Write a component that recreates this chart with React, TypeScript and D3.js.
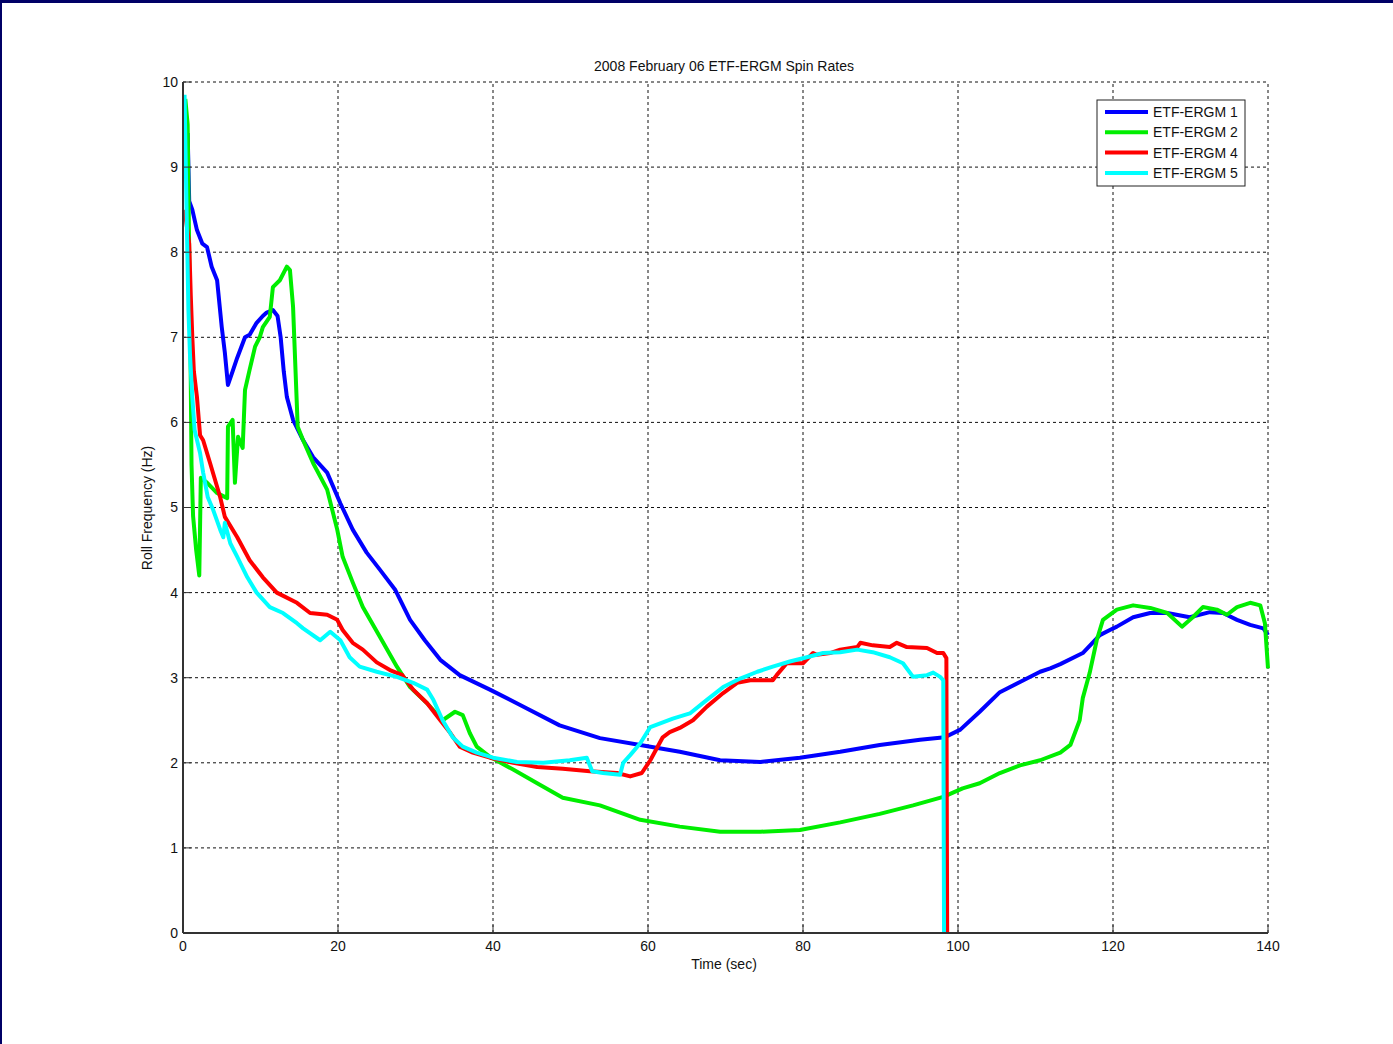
import React from 'react';
import * as d3 from 'd3';

// spin-rate traces (time in sec, roll frequency in Hz)
const ergm1Time = [0.6, 0.8, 1.2, 1.8, 2.5, 3.1, 3.7, 4.4, 5.0, 5.4, 5.8, 6.4, 7.0, 8.0, 8.6, 9.5, 10.3, 10.8, 11.6, 12.2, 12.6, 13.0, 13.4, 14.2, 15.5, 16.8, 18.6, 20.3, 21.9, 23.7, 25.4, 27.4, 29.3, 31.2, 33.2, 35.7, 39.6, 43.5, 48.6, 53.8, 59.0, 64.1, 69.3, 74.5, 79.6, 84.8, 89.9, 95.1, 98.3, 100.3, 102.8, 105.4, 108.0, 110.6, 111.9, 113.2, 116.1, 118.3, 119.6, 120.5, 122.6, 124.8, 127.0, 129.9, 132.5, 134.2, 136.0, 137.7, 139.4, 140];
const ergm1Rate = [9.4, 8.6, 8.5, 8.26, 8.1, 8.06, 7.83, 7.67, 7.12, 6.82, 6.44, 6.6, 6.76, 7.0, 7.03, 7.17, 7.25, 7.29, 7.32, 7.25, 7.0, 6.6, 6.3, 6.03, 5.79, 5.59, 5.41, 5.05, 4.74, 4.47, 4.27, 4.03, 3.68, 3.44, 3.21, 3.03, 2.86, 2.68, 2.44, 2.29, 2.21, 2.13, 2.03, 2.01, 2.06, 2.13, 2.21, 2.27, 2.30, 2.39, 2.60, 2.83, 2.95, 3.07, 3.11, 3.16, 3.29, 3.5, 3.56, 3.60, 3.71, 3.76, 3.76, 3.71, 3.77, 3.76, 3.68, 3.62, 3.58, 3.50];

const ergm2Time = [0.3, 0.6, 0.8, 1.0, 1.1, 1.3, 1.7, 2.1, 2.3, 3.0, 4.4, 5.7, 5.8, 6.4, 6.7, 7.1, 7.7, 8.0, 8.6, 9.3, 9.9, 10.3, 11.2, 11.6, 12.5, 13.4, 13.8, 14.2, 14.8, 15.5, 16.8, 18.6, 19.9, 20.6, 21.9, 23.2, 25.4, 27.6, 29.3, 31.5, 33.5, 35.1, 36.1, 37.0, 37.9, 39.6, 42.6, 45.7, 49.0, 53.8, 59.0, 64.1, 69.3, 74.5, 79.6, 84.8, 89.9, 94.2, 98.1, 100.6, 102.8, 105.4, 108.0, 110.6, 113.2, 114.5, 115.7, 116.1, 117.0, 117.9, 118.7, 120.5, 122.6, 124.8, 127.0, 128.9, 130.3, 131.6, 133.4, 134.7, 136.0, 137.7, 139.0, 139.6, 140];
const ergm2Rate = [9.8, 9.5, 8.0, 6.5, 5.5, 4.9, 4.5, 4.2, 5.35, 5.3, 5.17, 5.11, 5.95, 6.03, 5.29, 5.83, 5.70, 6.38, 6.62, 6.89, 7.0, 7.12, 7.24, 7.59, 7.67, 7.83, 7.79, 7.36, 5.95, 5.79, 5.52, 5.21, 4.74, 4.42, 4.12, 3.83, 3.48, 3.13, 2.89, 2.70, 2.50, 2.60, 2.56, 2.35, 2.19, 2.07, 1.92, 1.76, 1.59, 1.50, 1.33, 1.25, 1.19, 1.19, 1.21, 1.30, 1.40, 1.50, 1.60, 1.70, 1.76, 1.88, 1.97, 2.03, 2.12, 2.21, 2.50, 2.76, 3.06, 3.44, 3.68, 3.80, 3.85, 3.82, 3.76, 3.60, 3.71, 3.83, 3.80, 3.74, 3.83, 3.88, 3.85, 3.64, 3.11];

const ergm4Time = [0.2, 0.8, 1.0, 1.2, 1.4, 1.8, 2.2, 2.6, 3.5, 4.8, 5.4, 7.0, 8.6, 10.3, 12.1, 14.7, 16.4, 18.6, 19.9, 20.6, 21.9, 23.2, 25.0, 26.7, 28.3, 29.7, 31.5, 33.2, 34.5, 35.7, 37.4, 39.6, 42.6, 45.7, 49.0, 52.5, 56.0, 57.7, 59.2, 60.3, 61.9, 62.8, 64.1, 65.8, 67.6, 69.7, 71.5, 73.2, 76.1, 76.6, 77.9, 80.0, 81.3, 81.8, 83.5, 84.8, 87.0, 87.4, 89.0, 91.2, 92.1, 93.4, 96.0, 97.3, 98.1, 98.5, 98.6];
const ergm4Rate = [8.5, 8.1, 7.5, 7.0, 6.6, 6.3, 5.85, 5.79, 5.52, 5.12, 4.89, 4.65, 4.38, 4.18, 4.0, 3.88, 3.76, 3.74, 3.68, 3.56, 3.41, 3.33, 3.18, 3.09, 3.03, 2.86, 2.70, 2.50, 2.35, 2.19, 2.12, 2.06, 2.00, 1.95, 1.93, 1.90, 1.88, 1.84, 1.88, 2.03, 2.30, 2.36, 2.41, 2.50, 2.66, 2.82, 2.94, 2.97, 2.97, 3.03, 3.17, 3.17, 3.29, 3.27, 3.29, 3.33, 3.36, 3.41, 3.38, 3.36, 3.41, 3.36, 3.35, 3.29, 3.29, 3.23, 0];

const ergm5Time = [0.2, 0.5, 0.7, 0.9, 1.2, 1.5, 2.2, 2.6, 3.2, 3.9, 4.8, 5.2, 5.4, 6.1, 7.0, 8.3, 9.5, 11.2, 12.9, 14.7, 15.5, 17.7, 19.0, 20.3, 21.5, 22.8, 25.0, 27.6, 29.7, 31.5, 32.3, 33.5, 34.8, 36.1, 37.9, 40.0, 43.1, 46.5, 49.9, 52.1, 52.8, 54.2, 56.4, 56.8, 57.7, 59.0, 60.3, 63.2, 65.4, 67.6, 69.7, 71.9, 74.1, 76.1, 78.3, 80.5, 82.6, 84.8, 87.0, 89.0, 91.2, 92.9, 94.2, 96.0, 96.8, 97.7, 98.1, 98.2];
const ergm5Rate = [9.85, 8.3, 7.32, 6.8, 6.3, 5.91, 5.64, 5.41, 5.12, 4.97, 4.74, 4.65, 4.82, 4.58, 4.42, 4.18, 4.0, 3.83, 3.76, 3.64, 3.58, 3.44, 3.54, 3.44, 3.24, 3.13, 3.07, 3.01, 2.94, 2.86, 2.74, 2.50, 2.30, 2.19, 2.12, 2.06, 2.01, 2.00, 2.03, 2.06, 1.90, 1.88, 1.86, 2.00, 2.09, 2.23, 2.42, 2.52, 2.58, 2.74, 2.89, 2.99, 3.07, 3.13, 3.19, 3.24, 3.29, 3.30, 3.33, 3.30, 3.24, 3.17, 3.01, 3.03, 3.06, 3.01, 2.97, 0];

const seriesNames = ['ETF-ERGM 1', 'ETF-ERGM 2', 'ETF-ERGM 4', 'ETF-ERGM 5'];
const seriesColors = ['#0000ff', '#00ee00', '#ff0000', '#00ffff'];
const xTicks = [0, 20, 40, 60, 80, 100, 120, 140];
const yTicks = [0, 1, 2, 3, 4, 5, 6, 7, 8, 9, 10];

const W = 1393, H = 1044;
const left = 183, right = 1268, top = 82, bottom = 933;
const font = 'Arial, "Liberation Sans", sans-serif';

export default function App() {
    const x = d3.scaleLinear().domain([0, 140]).range([left, right]);
    const y = d3.scaleLinear().domain([0, 10]).range([bottom, top]);

    const traces = [
        [ergm1Time, ergm1Rate],
        [ergm2Time, ergm2Rate],
        [ergm4Time, ergm4Rate],
        [ergm5Time, ergm5Rate],
    ].map(([ts, vs]) => ts.map((t, i) => [t, vs[i]] as [number, number]));

    const line = d3.line<[number, number]>()
        .x(d => x(d[0]))
        .y(d => y(d[1]));

    const grid = { stroke: '#111', strokeWidth: 1, strokeDasharray: '3,3' };

    return (
        <svg width={W} height={H} style={{ position: 'absolute', left: 0, top: 0, background: '#fff' }}>
            <rect x={0} y={0} width={W} height={3} fill="#000066" />
            <rect x={0} y={0} width={2} height={H} fill="#000066" />

            {/* grid */}
            {xTicks.filter(t => t > 0).map(t => (
                <line key={'gx' + t} x1={x(t)} x2={x(t)} y1={bottom} y2={top} {...grid} />
            ))}
            {yTicks.filter(t => t > 0).map(t => (
                <line key={'gy' + t} x1={left} x2={right} y1={y(t)} y2={y(t)} {...grid} />
            ))}

            {/* traces */}
            {traces.map((pts, i) => (
                <path key={'s' + i} d={line(pts) || ''} fill="none" stroke={seriesColors[i]}
                    strokeWidth={4} strokeLinejoin="round" strokeLinecap="butt" />
            ))}

            {/* axes */}
            <line x1={left} x2={right} y1={bottom} y2={bottom} stroke="#333" strokeWidth={2} />
            <line x1={left} x2={left} y1={bottom} y2={top} stroke="#333" strokeWidth={2} />
            {xTicks.map(t => (
                <g key={'xt' + t}>
                    <line x1={x(t)} x2={x(t)} y1={bottom} y2={bottom - 8} stroke="#333" strokeWidth={1} />
                    <text x={x(t)} y={951} textAnchor="middle" fontSize={14} fontFamily={font} fill="#111">{t}</text>
                </g>
            ))}
            {yTicks.map(t => (
                <g key={'yt' + t}>
                    <line x1={left} x2={left + 8} y1={y(t)} y2={y(t)} stroke="#333" strokeWidth={1} />
                    <text x={178} y={y(t)} dy="0.35em" textAnchor="end" fontSize={14} fontFamily={font} fill="#111">{t}</text>
                </g>
            ))}

            <text x={724} y={71} textAnchor="middle" fontSize={14} fontFamily={font} fill="#111">
                2008 February 06 ETF-ERGM Spin Rates
            </text>
            <text x={724} y={969} textAnchor="middle" fontSize={14} fontFamily={font} fill="#111">Time (sec)</text>
            <text transform="translate(152,508) rotate(-90)" textAnchor="middle" fontSize={14} fontFamily={font} fill="#111">
                Roll Frequency (Hz)
            </text>

            {/* legend */}
            <rect x={1097} y={100} width={148} height={86} fill="#fff" stroke="#222" strokeWidth={1} />
            {seriesNames.map((name, i) => {
                const ly = 112 + i * 20.3;
                return (
                    <g key={'lg' + i}>
                        <line x1={1105} x2={1148} y1={ly} y2={ly} stroke={seriesColors[i]} strokeWidth={4} />
                        <text x={1153} y={ly} dy="0.35em" fontSize={14} fontFamily={font} fill="#111">{name}</text>
                    </g>
                );
            })}
        </svg>
    );
}
